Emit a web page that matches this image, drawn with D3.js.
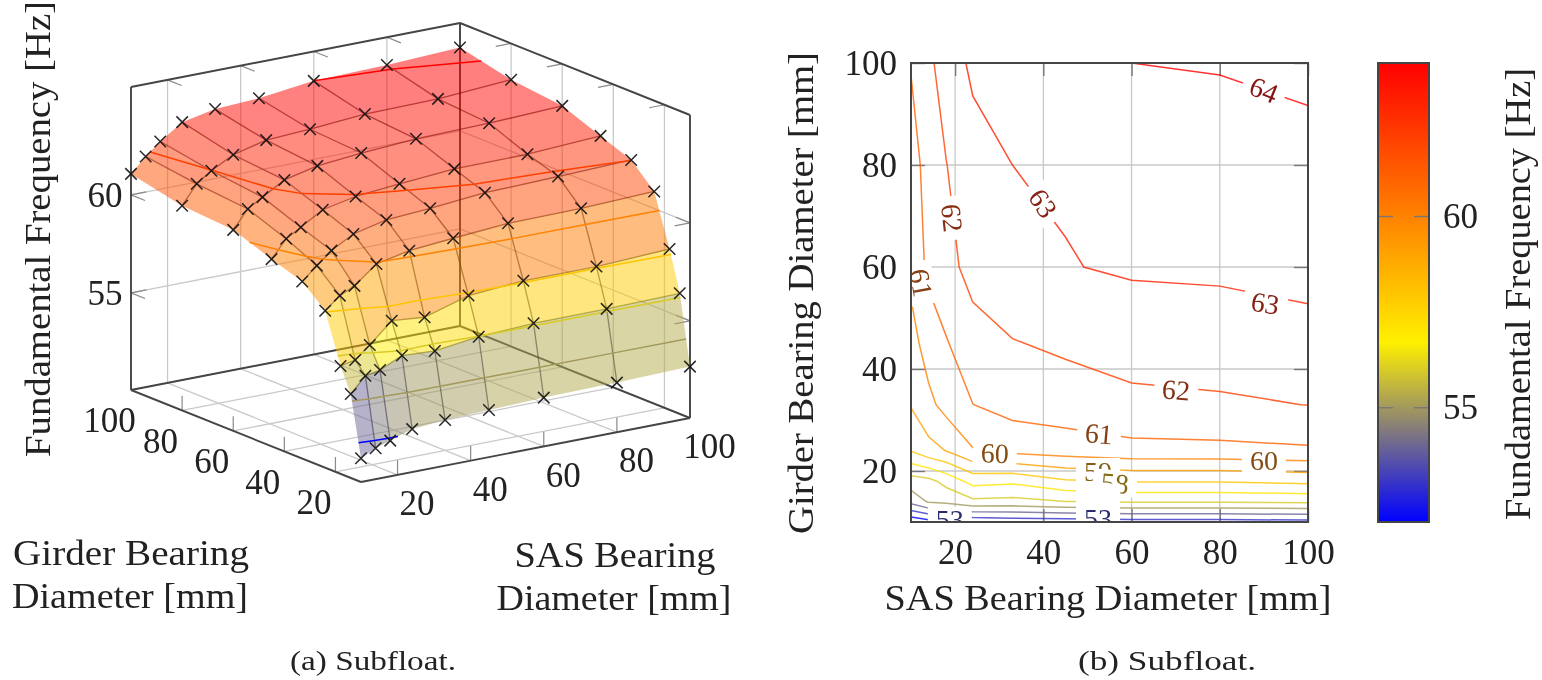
<!DOCTYPE html>
<html>
<head>
<meta charset="utf-8">
<script src="https://cdn.jsdelivr.net/npm/d3@7"></script>
<style>
  body { margin: 0; background: #fff; }
  svg { display: block; filter: blur(0.6px); }
  text { font-family: "Liberation Serif", serif; fill: #222; }
</style>
</head>
<body>
<script>
// mesh positions, same for both bearings (mm)
var sasDiameters = [10, 14, 18, 24, 33, 45, 60, 80, 100];
var girderDiameters = [10, 14, 18, 24, 33, 45, 60, 80, 100];

// fundamental frequency in Hz, one row per SAS diameter, going through girderDiameters
var freqSas10 = [51.26, 54.33, 55.55, 58.05, 59.07, 59.59, 60.30, 60.49, 61.07];
var freqSas14 = [51.63, 55.11, 55.71, 58.68, 59.74, 60.48, 61.22, 61.46, 61.81];
var freqSas18 = [51.87, 55.26, 56.33, 59.03, 60.36, 60.93, 61.68, 61.98, 62.43];
var freqSas24 = [52.24, 55.78, 57.35, 59.93, 60.99, 61.60, 62.34, 62.58, 63.20];
var freqSas33 = [52.38, 55.69, 57.20, 60.28, 61.38, 61.95, 62.73, 63.00, 63.54];
var freqSas45 = [52.45, 55.98, 57.87, 60.48, 61.54, 62.16, 62.95, 63.12, 63.66];
var freqSas60 = [52.54, 56.12, 58.08, 60.70, 61.79, 62.38, 63.13, 63.35, 64.00];
var freqSas80 = [52.58, 56.13, 58.08, 60.74, 61.89, 62.40, 63.20, 63.40, 64.08];
var freqSas100 = [52.67, 56.20, 58.25, 60.87, 62.01, 62.61, 63.36, 63.65, 64.25];
var freqRows = [freqSas10, freqSas14, freqSas18, freqSas24, freqSas33, freqSas45, freqSas60, freqSas80, freqSas100];

// colormap
var colorStops = [52, 56.7, 60, 64];
var colorValues = ["rgb(0,0,255)", "rgb(255,240,0)", "rgb(255,130,0)", "rgb(255,0,0)"];

var tickMm = [20, 40, 60, 80, 100];
var tickHz = [55, 60];
var surfaceLevels = [52, 54, 56, 58, 60, 62, 64];
var planLevels = [52, 53, 54, 55, 56, 57, 58, 59, 60, 61, 62, 63, 64];

// contour labels of the right plot, painted in this order
var labelLevels = [64, 63, 63, 62, 61, 62, 61, 60, 60, 59, 58];
var labelSas = [90, 39.9, 90.3, 19.3, 12.3, 70.1, 52.6, 29, 90, 52.4, 56.2];
var labelGirder = [94.7, 72.5, 52.9, 69.6, 56.9, 35.9, 27.3, 23.5, 22, 20, 17.6];
var labelAngles = [22, 57, 10, 84, 80, 5, 5, 2, 0, 0, 5];
// labels covered by the next ones, only their white boxes are left
var hiddenSas = [52.4, 52.4, 52.4];
var hiddenGirder = [15, 13.4, 12];
// the two at the bottom edge come last
var bottomLabelSas = [52.4, 18.8];
var bottomLabelGirder = [10.6, 10.4];

var svg = d3.select("body").append("svg").attr("width", 1542).attr("height", 680);
var color = d3.scaleLinear().domain(colorStops).range(colorValues).clamp(true);

// index in the mesh -> mm, d3.contours puts node k at k + 0.5
var nodes = d3.range(9).map(function (k) { return k + 0.5; });
var sasOfIndex = d3.scaleLinear().domain(nodes).range(sasDiameters);
var girderOfIndex = d3.scaleLinear().domain(nodes).range(girderDiameters);

// d3.contours gives closed areas, keep only the parts that are not on the outer border
var flat = [];
girderDiameters.forEach(function (g, j) {
  sasDiameters.forEach(function (s, i) { flat.push(freqRows[i][j]); });
});
function isOutside(p) { return p[0] < 0.5 || p[0] > 8.5 || p[1] < 0.5 || p[1] > 8.5; }
function contourPaths(level) {
  var paths = [];
  var shape = d3.contours().size([9, 9]).thresholds([level])(flat)[0];
  shape.coordinates.forEach(function (polygon) {
    polygon.forEach(function (ring) {
      var pts = ring.slice(1);
      var start = pts.findIndex(isOutside);
      var walk = start < 0 ? ring : pts.slice(start).concat(pts.slice(0, start));
      var cur = [];
      walk.forEach(function (p) {
        if (isOutside(p)) {
          if (cur.length > 1) paths.push(cur);
          cur = [];
        } else {
          cur.push([sasOfIndex(p[0]), girderOfIndex(p[1])]);
        }
      });
      if (cur.length > 1) paths.push(cur);
    });
  });
  return paths;
}

/**** left plot ****/
var gridColor = "#c9c9c9", tickColor = "#8a8a8a", frameColor = "#454545";
var originX = 361, originY = 482;
var sasToX = d3.scaleLinear().domain([10, 100]).range([0, 329]);
var sasToY = d3.scaleLinear().domain([10, 100]).range([0, -64]);
var girderToX = d3.scaleLinear().domain([10, 100]).range([0, -230]);
var girderToY = d3.scaleLinear().domain([10, 100]).range([0, -92]);
var freqToY = d3.scaleLinear().domain([50.05, 65.5]).range([0, -303]);
var freqMin = 50.05, freqMax = 65.5;

function project(s, g, f) {
  return [originX + sasToX(s) + girderToX(g), originY + sasToY(s) + girderToY(g) + freqToY(f)];
}
var line3d = d3.line()
  .x(function (d) { return project(d[0], d[1], d[2])[0]; })
  .y(function (d) { return project(d[0], d[1], d[2])[1]; });

var left = svg.append("g");
function seg3d(a, b, stroke, width) {
  left.append("path").attr("d", line3d([a, b])).attr("fill", "none")
    .attr("stroke", stroke).attr("stroke-width", width);
}

// grid on floor and back walls
tickMm.forEach(function (v) {
  seg3d([v, 10, freqMin], [v, 100, freqMin], gridColor, 1.3);
  seg3d([10, v, freqMin], [100, v, freqMin], gridColor, 1.3);
  seg3d([v, 100, freqMin], [v, 100, freqMax], gridColor, 1.3);
  seg3d([100, v, freqMin], [100, v, freqMax], gridColor, 1.3);
});
tickHz.forEach(function (f) {
  seg3d([10, 100, f], [100, 100, f], gridColor, 1.3);
  seg3d([100, 100, f], [100, 10, f], gridColor, 1.3);
});
// small ticks
tickMm.forEach(function (v) {
  seg3d([v, 100, freqMax], [v, 94.5, freqMax], tickColor, 1.2);
  seg3d([100, v, freqMax], [95.8, v, freqMax], tickColor, 1.2);
  seg3d([v, 10, freqMin], [v, 10, freqMin + 0.75], tickColor, 1.2);
  seg3d([10, v, freqMin], [10, v, freqMin + 0.75], tickColor, 1.2);
});
tickHz.forEach(function (f) {
  seg3d([10, 100, f], [14.2, 100, f], tickColor, 1.2);
  seg3d([10, 100, f], [10, 94.5, f], tickColor, 1.2);
  seg3d([100, 10, f], [95.8, 10, f], tickColor, 1.2);
  seg3d([100, 10, f], [100, 15.5, f], tickColor, 1.2);
});
// box
[[[10, 10, freqMin], [100, 10, freqMin]], [[100, 10, freqMin], [100, 100, freqMin]],
 [[100, 100, freqMin], [10, 100, freqMin]], [[10, 100, freqMin], [10, 10, freqMin]],
 [[10, 100, freqMax], [100, 100, freqMax]], [[100, 100, freqMax], [100, 10, freqMax]],
 [[10, 100, freqMin], [10, 100, freqMax]], [[100, 100, freqMin], [100, 100, freqMax]],
 [[100, 10, freqMin], [100, 10, freqMax]]].forEach(function (e) {
  seg3d(e[0], e[1], frameColor, 1.9);
});

// surface, one flat colour per mesh cell, the upper edge of the cell counts more
var cells = [];
d3.range(8).forEach(function (i) {
  d3.range(8).forEach(function (j) {
    cells.push({
      corners: [
        [sasDiameters[i], girderDiameters[j], freqRows[i][j]],
        [sasDiameters[i + 1], girderDiameters[j], freqRows[i + 1][j]],
        [sasDiameters[i + 1], girderDiameters[j + 1], freqRows[i + 1][j + 1]],
        [sasDiameters[i], girderDiameters[j + 1], freqRows[i][j + 1]]
      ],
      shade: 0.3 * (freqRows[i][j] + freqRows[i + 1][j]) / 2 + 0.7 * (freqRows[i][j + 1] + freqRows[i + 1][j + 1]) / 2 + 0.25
    });
  });
});
left.append("g").selectAll("path").data(cells).enter().append("path")
  .attr("d", function (d) { return line3d(d.corners) + "Z"; })
  .attr("fill", function (d) { return color(d.shade); })
  .attr("fill-opacity", 0.5);

// inner mesh lines
var meshSegments = [];
d3.range(9).forEach(function (i) {
  d3.range(8).forEach(function (j) {
    if (i > 0 && i < 8) {
      meshSegments.push([[sasDiameters[i], girderDiameters[j], freqRows[i][j]], [sasDiameters[i], girderDiameters[j + 1], freqRows[i][j + 1]]]);
    }
  });
});
d3.range(8).forEach(function (i) {
  d3.range(1, 8).forEach(function (j) {
    meshSegments.push([[sasDiameters[i], girderDiameters[j], freqRows[i][j]], [sasDiameters[i + 1], girderDiameters[j], freqRows[i + 1][j]]]);
  });
});
left.append("g").selectAll("path").data(meshSegments).enter().append("path")
  .attr("d", line3d)
  .attr("fill", "none")
  .attr("stroke", function (d) { return d3.interpolateRgb(color((d[0][2] + d[1][2]) / 2 + 0.5), "#000")(0.45); })
  .attr("stroke-opacity", 0.6)
  .attr("stroke-width", 1.3);

// contour lines on the surface
surfaceLevels.forEach(function (level) {
  contourPaths(level).forEach(function (path) {
    left.append("path")
      .attr("d", line3d(path.map(function (p) { return [p[0], p[1], level]; })))
      .attr("fill", "none")
      .attr("stroke", color(level === 54 ? 55 : level))
      .attr("stroke-width", 1.5);
  });
});

// measured points
var points = [];
sasDiameters.forEach(function (s, i) {
  girderDiameters.forEach(function (g, j) { points.push(project(s, g, freqRows[i][j])); });
});
left.append("g").selectAll("path").data(points).enter().append("path")
  .attr("d", d3.symbol().type(d3.symbolX).size(88))
  .attr("transform", function (d) { return "translate(" + d[0] + "," + d[1] + ")"; })
  .attr("fill", "none")
  .attr("stroke", "#111")
  .attr("stroke-opacity", 0.9)
  .attr("stroke-width", 1.5);

// tick labels
function tickLabel(x, y, txt) {
  left.append("text").attr("x", x).attr("y", y).attr("dy", "0.35em")
    .attr("text-anchor", "middle").style("font-size", "35px").text(txt);
}
tickMm.forEach(function (v) {
  var a = project(v, 10, freqMin);
  tickLabel(a[0] + 19.5, a[1] + 28, v);
  var b = project(10, v, freqMin);
  tickLabel(b[0] - 21.5, b[1] + 30, v);
});
tickHz.forEach(function (f) {
  var p = project(10, 100, f);
  tickLabel(p[0] - 26, p[1], f);
});

// axis titles with their measured widths
function title(x, y, txt, size, width, rotate) {
  svg.append("text")
    .attr("transform", "translate(" + x + "," + y + ")" + (rotate ? "rotate(-90)" : ""))
    .attr("text-anchor", "middle")
    .attr("textLength", width)
    .attr("lengthAdjust", "spacingAndGlyphs")
    .style("font-size", size + "px")
    .text(txt);
}
title(50, 229, "Fundamental Frequency [Hz]", 36, 456, true);
title(131, 565, "Girder Bearing", 36, 236);
title(130, 608, "Diameter [mm]", 36, 236);
title(615, 567, "SAS Bearing", 36, 201);
title(614, 610, "Diameter [mm]", 36, 235);
title(373, 670, "(a) Subfloat.", 28, 166);
title(1167, 670, "(b) Subfloat.", 28, 178);

/**** right plot ****/
var planX = d3.scaleLinear().domain([10, 100]).range([911, 1308]);
var planY = d3.scaleLinear().domain([10, 100]).range([522, 63]);
var right = svg.append("g");

svg.append("clipPath").attr("id", "plan-clip").append("rect")
  .attr("x", 911).attr("y", 63).attr("width", 397).attr("height", 459);

function styleAxis(g, size) {
  g.select(".domain").remove();
  g.selectAll(".tick line").attr("stroke", "#777").attr("stroke-width", 1.4);
  g.selectAll(".tick text").style("font-size", size + "px")
    .attr("font-family", null).attr("fill", null);
}
// grid
right.selectAll("line.gx").data(tickMm).enter().append("line")
  .attr("x1", planX).attr("x2", planX).attr("y1", 63).attr("y2", 522)
  .attr("stroke", gridColor).attr("stroke-width", 1.3);
right.selectAll("line.gy").data(tickMm).enter().append("line")
  .attr("y1", planY).attr("y2", planY).attr("x1", 911).attr("x2", 1308)
  .attr("stroke", gridColor).attr("stroke-width", 1.3);

var axisG;
axisG = right.append("g").attr("transform", "translate(0,522)")
  .call(d3.axisBottom(planX).tickValues(tickMm).tickSize(-13).tickPadding(17).tickFormat(d3.format("d")));
styleAxis(axisG, 35);
axisG.selectAll(".tick text").attr("dy", "0.72em");
axisG = right.append("g").attr("transform", "translate(0,63)")
  .call(d3.axisTop(planX).tickValues(tickMm).tickSize(-13).tickFormat(""));
styleAxis(axisG, 35);
axisG = right.append("g").attr("transform", "translate(911,0)")
  .call(d3.axisLeft(planY).tickValues(tickMm).tickSize(-14).tickPadding(14).tickFormat(d3.format("d")));
styleAxis(axisG, 35);
axisG = right.append("g").attr("transform", "translate(1308,0)")
  .call(d3.axisRight(planY).tickValues(tickMm).tickSize(-14).tickFormat(""));
styleAxis(axisG, 35);

// contour lines
var planLine = d3.line()
  .x(function (d) { return planX(d[0]); })
  .y(function (d) { return planY(d[1]); });
var plan = right.append("g").attr("clip-path", "url(#plan-clip)");
planLevels.forEach(function (level) {
  contourPaths(level).forEach(function (path) {
    plan.append("path")
      .attr("d", planLine(path))
      .attr("fill", "none")
      .attr("stroke", color(level))
      .attr("stroke-opacity", 0.8)
      .attr("stroke-width", 1.5);
  });
});

// contour labels with their white boxes
function planLabel(level, s, g, angle) {
  var lab = plan.append("g")
    .attr("transform", "translate(" + planX(s) + "," + planY(g) + ")rotate(" + angle + ")");
  lab.append("rect").attr("x", -22).attr("y", -13).attr("width", 44).attr("height", 26).attr("fill", "#fff");
  if (level) {
    lab.append("text").attr("dy", "0.34em").attr("text-anchor", "middle")
      .style("font-size", "28px")
      .style("fill", d3.interpolateRgb(color(level), "#222")(0.55))
      .text(level);
  }
}
labelLevels.forEach(function (level, k) { planLabel(level, labelSas[k], labelGirder[k], labelAngles[k]); });
hiddenSas.forEach(function (s, k) { planLabel(null, s, hiddenGirder[k], 0); });
bottomLabelSas.forEach(function (s, k) { planLabel(53, s, bottomLabelGirder[k], 0); });

right.append("rect").attr("x", 911).attr("y", 63).attr("width", 397).attr("height", 459)
  .attr("fill", "none").attr("stroke", frameColor).attr("stroke-width", 2);

title(813, 293, "Girder Bearing Diameter [mm]", 36, 482, true);
title(1108, 610, "SAS Bearing Diameter [mm]", 36, 447);

/**** colour bar ****/
var barY = d3.scaleLinear().domain([52, 64]).range([522, 63]);
var gradient = svg.append("defs").append("linearGradient").attr("id", "bar-colors")
  .attr("x1", 0).attr("x2", 0).attr("y1", 1).attr("y2", 0);
colorStops.forEach(function (stop, k) {
  gradient.append("stop").attr("offset", (stop - 52) / 12).attr("stop-color", colorValues[k]);
});
svg.append("rect").attr("x", 1378).attr("y", 63).attr("width", 51).attr("height", 459)
  .attr("fill", "url(#bar-colors)");
axisG = svg.append("g").attr("transform", "translate(1429,0)")
  .call(d3.axisRight(barY).tickValues(tickHz).tickSize(-15).tickPadding(14).tickFormat(d3.format("d")));
styleAxis(axisG, 35);
axisG = svg.append("g").attr("transform", "translate(1378,0)")
  .call(d3.axisLeft(barY).tickValues(tickHz).tickSize(-15).tickFormat(""));
styleAxis(axisG, 35);
svg.append("rect").attr("x", 1378).attr("y", 63).attr("width", 51).attr("height", 459)
  .attr("fill", "none").attr("stroke", frameColor).attr("stroke-width", 2);

title(1530, 294, "Fundamental Frequency [Hz]", 36, 452, true);
</script>
</body>
</html>
